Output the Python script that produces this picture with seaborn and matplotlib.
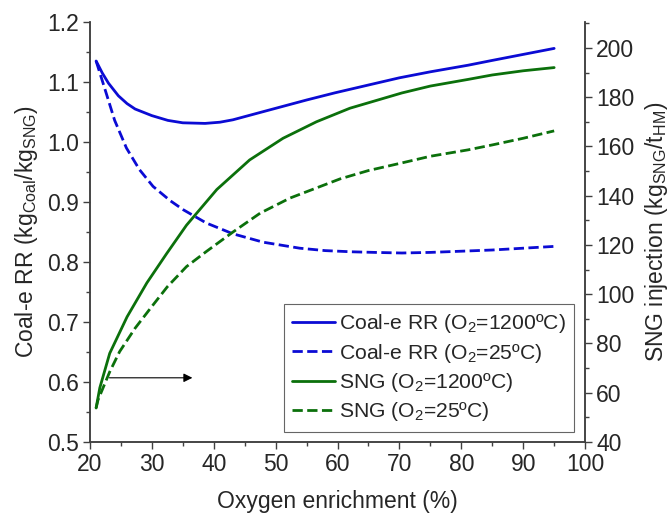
import matplotlib
matplotlib.use("Agg")
import matplotlib.pyplot as plt
from matplotlib.ticker import MultipleLocator, FormatStrFormatter
import seaborn as sns

# Data
x_rr_hot = [21, 22, 23, 24.6, 26, 27.3, 30, 32.6, 35, 38.6, 41, 43.1, 48.5, 55, 59.6, 65, 70, 75, 81.1, 85,
            90, 95]
rr_hot = [1.135, 1.115, 1.098, 1.077, 1.064, 1.055, 1.044, 1.036, 1.032, 1.031, 1.033, 1.037, 1.052, 1.070,
          1.082, 1.095, 1.107, 1.117, 1.128, 1.136, 1.146, 1.156]

x_rr_cold = [21, 22.4, 24, 25.9, 28, 30.2, 33, 35.1, 38.8, 43.1, 48, 53.9, 58, 62.3, 66, 70.4, 75, 80, 85, 90, 95]
rr_cold = [1.135, 1.089, 1.036, 0.990, 0.954, 0.926, 0.902, 0.887, 0.865, 0.847, 0.833, 0.823, 0.819, 0.817,
           0.816, 0.815, 0.816, 0.818, 0.820, 0.823, 0.826]

x_sng_hot = [21, 21.6, 23.2, 26, 29.2, 32.4, 35.6, 40.5, 45.8, 51.2, 56.6, 62, 70.4, 75, 81.1, 85, 90, 95]
sng_hot = [53.8, 62, 76, 90.8, 104.6, 116.5, 128, 142.5, 154.5, 163.3, 170, 175.5, 181.7, 184.5, 187.2,
           189, 190.7, 192]

x_sng_cold = [21, 21.3, 23.2, 24.8, 27.3, 30, 32.5, 35.6, 38.9, 43.2, 47.5, 52.3, 60.4, 65, 70.4, 75, 81.1,
              85, 90, 95]
sng_cold = [53.8, 57, 68.5, 76.7, 86.2, 95, 103, 111.2, 117.5, 125.4, 132.9, 139, 146.8, 150.2, 153.3, 156,
            158.6, 160.6, 163.3, 166.3]

BLUE = "#0b0bd4"
GREEN = "#0b700b"
FS = 16.5

sns.set_style("ticks")
plt.rcParams['font.family'] = ['Liberation Sans', 'DejaVu Sans']
plt.rcParams['mathtext.fontset'] = 'custom'
plt.rcParams['mathtext.rm'] = 'Liberation Sans'
plt.rcParams['mathtext.it'] = 'Liberation Sans:italic'
plt.rcParams['font.size'] = FS

fig = plt.figure(figsize=(6.71, 5.13), dpi=100)
ax = fig.add_axes([0.134, 0.1384, 0.738, 0.8187])
ax2 = ax.twinx()

dash = (6.5, 3.5)
lw = 2.0
sns.lineplot(x=x_rr_hot, y=rr_hot, ax=ax, color=BLUE, lw=lw, label=r"Coal-e RR (O$_2$=1200ºC)", legend=False)
sns.lineplot(x=x_rr_cold, y=rr_cold, ax=ax, color=BLUE, lw=lw, dashes=dash, linestyle='--',
             label=r"Coal-e RR (O$_2$=25ºC)", legend=False)
sns.lineplot(x=x_sng_hot, y=sng_hot, ax=ax2, color=GREEN, lw=lw, label=r"SNG (O$_2$=1200ºC)", legend=False)
sns.lineplot(x=x_sng_cold, y=sng_cold, ax=ax2, color=GREEN, lw=lw, dashes=dash, linestyle='--',
             label=r"SNG (O$_2$=25ºC)", legend=False)

ax.set_xlim(20, 100)
ax.set_ylim(0.5, 1.2)
ax2.set_ylim(40, 210.5)

ax.xaxis.set_major_locator(MultipleLocator(10))
ax.xaxis.set_minor_locator(MultipleLocator(5))
ax.yaxis.set_major_locator(MultipleLocator(0.1))
ax.yaxis.set_minor_locator(MultipleLocator(0.05))
ax2.yaxis.set_major_locator(MultipleLocator(20))
ax2.yaxis.set_minor_locator(MultipleLocator(10))

for a in (ax, ax2):
    a.tick_params(which='major', direction='out', length=5, width=1, labelsize=FS, color='0.25', pad=3)
    a.tick_params(which='minor', direction='out', length=3, width=1, color='0.25')
    for s in a.spines.values():
        s.set_color('0.25')
        s.set_linewidth(1.1)
    a.spines['top'].set_visible(False)
    a.grid(False)

ax.yaxis.set_major_formatter(FormatStrFormatter('%.1f'))

ax.set_xlabel("Oxygen enrichment (%)", fontsize=FS, labelpad=10)
ax.set_ylabel(r"Coal-e RR (kg$_\mathrm{Coal}$/kg$_\mathrm{SNG}$)", fontsize=FS, labelpad=5)
ax2.set_ylabel(r"SNG injection (kg$_\mathrm{SNG}$/t$_\mathrm{HM}$)", fontsize=FS, labelpad=6)

ax.annotate("", xy=(37, 0.607), xytext=(22.7, 0.607),
            arrowprops=dict(arrowstyle='-|>', color='0.45', lw=0.8, mutation_scale=13, fc='black', ec='black'))

h1, l1 = ax.get_legend_handles_labels()
h2, l2 = ax2.get_legend_handles_labels()
leg = ax2.legend(h1 + h2, l1 + l2, loc='lower right', bbox_to_anchor=(0.978, 0.024), fontsize=15.2,
                 frameon=True, fancybox=False, framealpha=1, edgecolor='0.4', handlelength=2.0,
                 handletextpad=0.2, borderpad=0.4, labelspacing=0.3, borderaxespad=0)
leg.get_frame().set_linewidth(0.8)

fig.savefig("out.png", dpi=100)
